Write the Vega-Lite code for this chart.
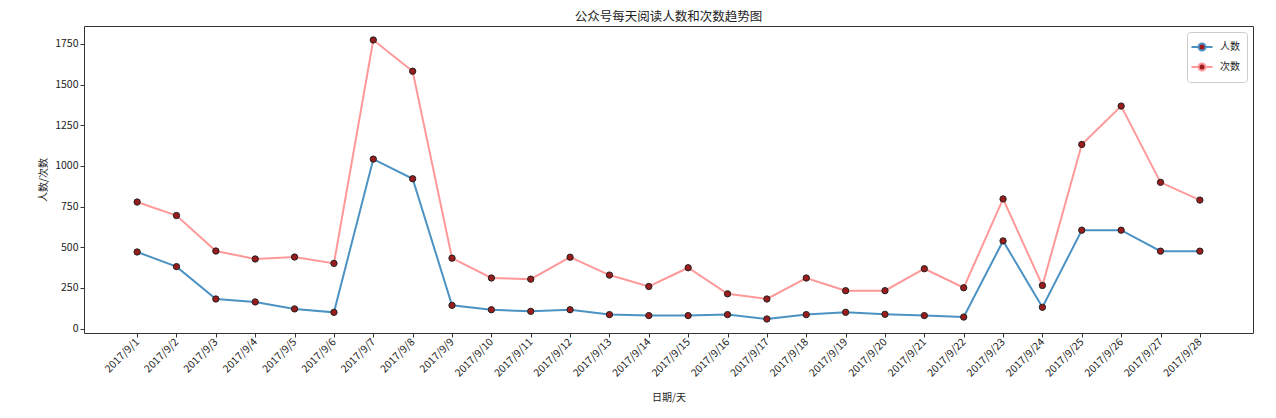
{
  "$schema": "https://vega.github.io/schema/vega-lite/v6.json",
  "autosize": "none",
  "width": 1169,
  "height": 307,
  "padding": {"left": 84, "top": 26, "right": 23, "bottom": 85},
  "background": "white",
  "title": {"text": "公众号每天阅读人数和次数趋势图", "fontSize": 12.5, "fontWeight": "normal", "font": "Noto Sans CJK SC", "color": "#222", "offset": 3},
  "config": {
    "font": "Noto Sans CJK SC",
    "view": {"stroke": "#333", "strokeWidth": 1},
    "axis": {"domain": false, "grid": false, "tickColor": "#333", "tickSize": 4, "labelColor": "#222", "labelFontSize": 10.5, "titleFontSize": 10, "titleFontWeight": "normal", "titleColor": "#222", "labelFont": "Noto Sans CJK SC", "titleFont": "Noto Sans CJK SC"}
  },
  "data": {"values": [
    {"date": "2017/9/1", "人数": 471, "次数": 778},
    {"date": "2017/9/2", "人数": 381, "次数": 695},
    {"date": "2017/9/3", "人数": 182, "次数": 477},
    {"date": "2017/9/4", "人数": 164, "次数": 428},
    {"date": "2017/9/5", "人数": 121, "次数": 440},
    {"date": "2017/9/6", "人数": 100, "次数": 401},
    {"date": "2017/9/7", "人数": 1042, "次数": 1774},
    {"date": "2017/9/8", "人数": 921, "次数": 1582},
    {"date": "2017/9/9", "人数": 143, "次数": 433},
    {"date": "2017/9/10", "人数": 116, "次数": 311},
    {"date": "2017/9/11", "人数": 106, "次数": 304},
    {"date": "2017/9/12", "人数": 116, "次数": 439},
    {"date": "2017/9/13", "人数": 86, "次数": 329},
    {"date": "2017/9/14", "人数": 80, "次数": 259},
    {"date": "2017/9/15", "人数": 80, "次数": 374},
    {"date": "2017/9/16", "人数": 86, "次数": 214},
    {"date": "2017/9/17", "人数": 59, "次数": 182},
    {"date": "2017/9/18", "人数": 86, "次数": 311},
    {"date": "2017/9/19", "人数": 100, "次数": 233},
    {"date": "2017/9/20", "人数": 88, "次数": 233},
    {"date": "2017/9/21", "人数": 80, "次数": 368},
    {"date": "2017/9/22", "人数": 71, "次数": 251},
    {"date": "2017/9/23", "人数": 539, "次数": 797},
    {"date": "2017/9/24", "人数": 131, "次数": 265},
    {"date": "2017/9/25", "人数": 605, "次数": 1132},
    {"date": "2017/9/26", "人数": 605, "次数": 1368},
    {"date": "2017/9/27", "人数": 476, "次数": 899},
    {"date": "2017/9/28", "人数": 476, "次数": 790}
  ]},
  "transform": [{"fold": ["人数", "次数"], "as": ["series", "value"]}],
  "encoding": {
    "x": {"field": "date", "type": "temporal",
      "scale": {"domain": [{"year": 2017, "month": 8, "date": 30, "hours": 15, "minutes": 36}, {"year": 2017, "month": 9, "date": 29, "hours": 8, "minutes": 24}], "nice": false},
      "axis": {"title": "日期/天", "format": "%Y/%-m/%-d",
        "values": [
          {"year": 2017, "month": 9, "date": 1}, {"year": 2017, "month": 9, "date": 2}, {"year": 2017, "month": 9, "date": 3}, {"year": 2017, "month": 9, "date": 4},
          {"year": 2017, "month": 9, "date": 5}, {"year": 2017, "month": 9, "date": 6}, {"year": 2017, "month": 9, "date": 7}, {"year": 2017, "month": 9, "date": 8},
          {"year": 2017, "month": 9, "date": 9}, {"year": 2017, "month": 9, "date": 10}, {"year": 2017, "month": 9, "date": 11}, {"year": 2017, "month": 9, "date": 12},
          {"year": 2017, "month": 9, "date": 13}, {"year": 2017, "month": 9, "date": 14}, {"year": 2017, "month": 9, "date": 15}, {"year": 2017, "month": 9, "date": 16},
          {"year": 2017, "month": 9, "date": 17}, {"year": 2017, "month": 9, "date": 18}, {"year": 2017, "month": 9, "date": 19}, {"year": 2017, "month": 9, "date": 20},
          {"year": 2017, "month": 9, "date": 21}, {"year": 2017, "month": 9, "date": 22}, {"year": 2017, "month": 9, "date": 23}, {"year": 2017, "month": 9, "date": 24},
          {"year": 2017, "month": 9, "date": 25}, {"year": 2017, "month": 9, "date": 26}, {"year": 2017, "month": 9, "date": 27}, {"year": 2017, "month": 9, "date": 28}
        ],
        "labelAngle": -45, "labelAlign": "right", "labelBaseline": "middle", "labelPadding": 3, "titlePadding": 14, "labelOverlap": false, "labelFlush": false}},
    "y": {"field": "value", "type": "quantitative", "scale": {"domain": [-27, 1860], "nice": false, "zero": false},
      "axis": {"title": "人数/次数", "format": "d", "values": [0, 250, 500, 750, 1000, 1250, 1500, 1750], "titlePadding": 6}}
  },
  "layer": [
    {
      "mark": {"type": "line", "strokeWidth": 2},
      "encoding": {
        "color": {"field": "series", "type": "nominal", "sort": ["人数", "次数"],
          "scale": {"domain": ["人数", "次数"], "range": ["#4c92c3", "#ff9999"]},
          "legend": {"title": null, "orient": "top-right", "offset": 6, "padding": 7, "rowPadding": 4,
            "fillColor": "white", "strokeColor": "#ccc", "cornerRadius": 3,
            "labelFontSize": 10, "labelColor": "#222", "labelFont": "Noto Sans CJK SC",
            "symbolType": "M-1.5,0H-0.5M0.5,0H1.5M0.5,0A0.5,0.5,0,1,1,-0.5,0A0.5,0.5,0,1,1,0.5,0Z",
            "symbolSize": 196, "symbolStrokeWidth": 2, "labelOffset": 10,
            "encode": {"symbols": {"update": {"fill": {"value": "#9a1c1c"}, "fillOpacity": {"value": 1}}}}}
        },
        "detail": {"field": "series"}
      }
    },
    {
      "mark": {"type": "point", "filled": true, "shape": "circle", "size": 40, "fill": "#9a1c1c", "stroke": "#222", "strokeWidth": 1, "opacity": 1},
      "encoding": {"detail": {"field": "series"}}
    }
  ]
}
